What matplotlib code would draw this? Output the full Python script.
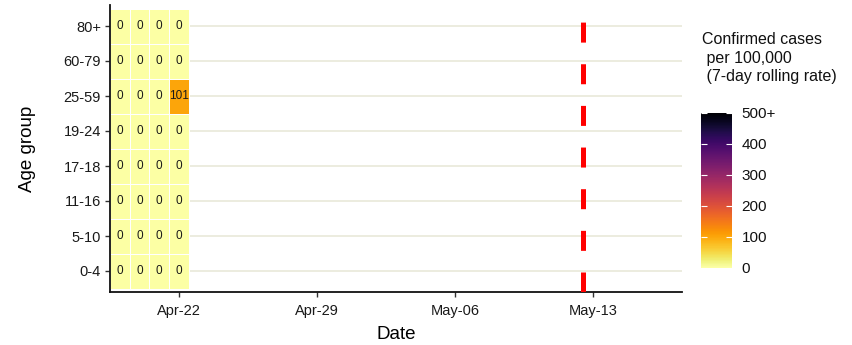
import numpy as np
import matplotlib
matplotlib.use("Agg")
import matplotlib.pyplot as plt
import matplotlib.dates as mdates
from matplotlib.colors import Normalize
import datetime as dt

plt.rcParams['font.family'] = ['Liberation Sans', 'DejaVu Sans']

# ---- data ----
age_groups = ["0-4", "5-10", "11-16", "17-18", "19-24", "25-59", "60-79", "80+"]
dates = ["2021-04-19", "2021-04-20", "2021-04-21", "2021-04-22"]
rates = {
    "0-4":   [0, 0, 0, 0],
    "5-10":  [0, 0, 0, 0],
    "11-16": [0, 0, 0, 0],
    "17-18": [0, 0, 0, 0],
    "19-24": [0, 0, 0, 0],
    "25-59": [0, 0, 0, 101],
    "60-79": [0, 0, 0, 0],
    "80+":   [0, 0, 0, 0],
}
x_ticks = ["2021-04-22", "2021-04-29", "2021-05-06", "2021-05-13"]
x_tick_labels = ["Apr-22", "Apr-29", "May-06", "May-13"]
x_limits = ["2021-04-18 12:00", "2021-05-17 12:00"]
vline_date = "2021-05-12 12:00"
cbar_ticks = [0, 100, 200, 300, 400, 500]
cbar_labels = ["0", "100", "200", "300", "400", "500+"]
vmax = 500

def d(s):
    fmt = "%Y-%m-%d %H:%M" if " " in s else "%Y-%m-%d"
    return mdates.date2num(dt.datetime.strptime(s, fmt))

fig = plt.figure(figsize=(8.52, 3.45), dpi=100)
ax = fig.add_axes([110/852, (345-292)/345, (682-110)/852, (292-5)/345])

cmap = plt.get_cmap("inferno_r")
norm = Normalize(0, vmax)

xd = np.array([d(s) for s in dates])
z = np.array([rates[a] for a in age_groups], dtype=float)
xe = np.concatenate([xd - 0.5, [xd[-1] + 0.5]])
ye = np.arange(len(age_groups) + 1) - 0.5

for yi in range(len(age_groups)):
    ax.axhline(yi, color="#ebebdc", lw=1.3, zorder=0)

mesh = ax.pcolormesh(xe, ye, z, cmap=cmap, norm=norm, edgecolors="white",
                     linewidth=0.5, zorder=2)
for yi, a in enumerate(age_groups):
    for xi, v in enumerate(rates[a]):
        ax.text(xd[xi], yi, f"{v:d}", ha="center", va="center", fontsize=8.5,
                color="#1a1a1a", zorder=3)

ax.axvline(d(vline_date), color="#ff0000", lw=3.6, linestyle=(0, (4.0, 4.33)),
           zorder=4)

ax.set_xlim(d(x_limits[0]), d(x_limits[1]))
ax.set_ylim(-0.6, len(age_groups) - 0.4)
ax.set_xticks([d(s) for s in x_ticks])
ax.set_xticklabels(x_tick_labels)
ax.set_yticks(range(len(age_groups)))
ax.set_yticklabels(age_groups)
ax.tick_params(axis="both", labelsize=10.5, colors="#333333", labelcolor="#1a1a1a",
               length=3.5, width=1)
ax.tick_params(axis="y", pad=3)
ax.tick_params(axis="x", pad=5)
for s in ["top", "right"]:
    ax.spines[s].set_visible(False)
for s in ["left", "bottom"]:
    ax.spines[s].set_linewidth(1.3)
    ax.spines[s].set_color("#111111")
ax.set_xlabel("Date", fontsize=13.5, labelpad=6)
ax.set_ylabel("Age group", fontsize=13.5, labelpad=20)

# colorbar
cax = fig.add_axes([701/852, (345-267.5)/345, 31/852, (267.5-112.5)/345])
cb = fig.colorbar(mesh, cax=cax)
cb.outline.set_visible(False)
cb.set_ticks(cbar_ticks)
cb.set_ticklabels(cbar_labels)
cax.tick_params(axis="y", direction="in", length=4.5, width=0.8, colors="white",
                left=True, right=True, labelsize=11, labelcolor="#111111", pad=7)
fig.text(702/852, 1 - 32/345, "Confirmed cases\n per 100,000\n (7-day rolling rate)",
         fontsize=11.5, va="top", ha="left", linespacing=1.3, color="#111111")

fig.savefig("out.png", dpi=100)
